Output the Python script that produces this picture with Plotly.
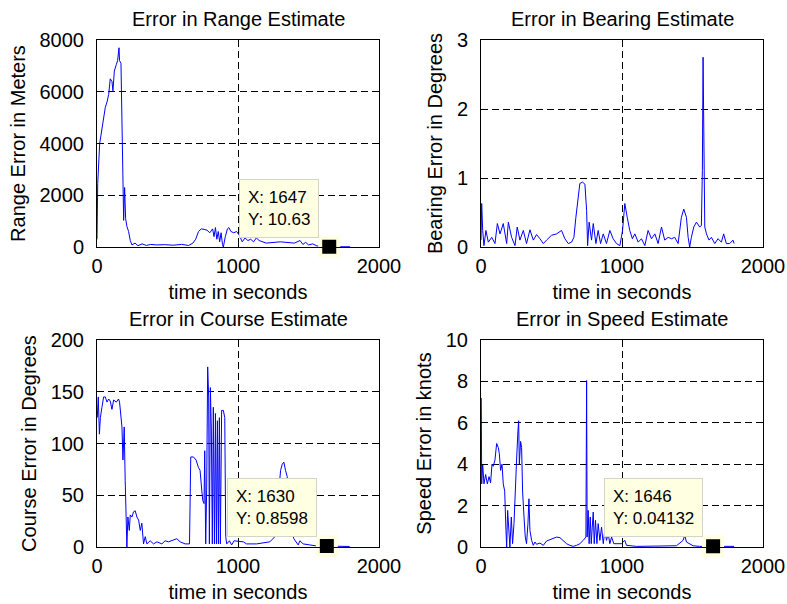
import plotly.graph_objects as go

# ---- data ----
range_t = [0, 5, 19, 35, 47, 59, 71, 83, 94, 106, 113, 123, 137, 146, 156, 160, 170, 177, 182, 189,
           196, 203, 212, 224, 236, 248, 270, 290, 320, 350, 380, 420, 480, 540, 600, 650, 680, 700,
           720, 740, 760, 780, 800, 820, 830, 840, 850, 860, 870, 880, 890, 896, 910, 925, 935, 950,
           970, 990, 1010, 1030, 1050, 1070, 1090, 1110, 1130, 1150, 1200, 1300, 1400, 1440, 1460,
           1480, 1500, 1530, 1560, 1600, 1647, 1700, 1795]
range_err = [300, 2450, 4000, 4600, 5150, 5400, 5600, 5900, 6500, 6400, 6040, 6800, 7050, 7200, 7700,
             7200, 7100, 4500, 2300, 1030, 2300, 1100, 800, 600, 250, 80, 150, 50, 120, 60, 100, 80, 90,
             70, 100, 60, 150, 300, 600, 700, 680, 650, 550, 700, 400, 750, 300, 600, 200, 550, 100, 0,
             400, 700, 750, 600, 550, 600, 450, 200, 350, 250, 300, 200, 350, 250, 150, 200, 150, 250,
             100, 180, 80, 120, 40, 20, 10.63, 10, 10]

bearing_t = [0, 5, 12, 21, 35, 52, 76, 99, 116, 135, 158, 182, 194, 217, 241, 257, 276, 300, 323, 347,
             371, 394, 418, 442, 465, 500, 536, 571, 595, 619, 642, 659, 673, 689, 701, 720, 737, 749,
             756, 767, 784, 796, 815, 831, 848, 867, 890, 914, 937, 961, 985, 1004, 1020, 1037, 1055,
             1074, 1091, 1115, 1138, 1162, 1185, 1209, 1233, 1256, 1280, 1303, 1327, 1351, 1374, 1398,
             1421, 1438, 1457, 1469, 1480, 1492, 1509, 1528, 1551, 1563, 1570, 1575, 1580, 1587, 1599,
             1617, 1634, 1658, 1681, 1705, 1721, 1740, 1764, 1787, 1795]
bearing_err = [0.1, 0.63, 0.24, 0.02, 0.24, 0.07, 0.14, 0.05, 0.34, 0.19, 0.34, 0.05, 0.36, 0.14, 0.02,
               0.29, 0.10, 0.24, 0.05, 0.25, 0.10, 0.18, 0.12, 0.05, 0.10, 0.17, 0.19, 0.24, 0.12, 0.05,
               0.07, 0.14, 0.43, 0.77, 0.92, 0.94, 0.91, 0.53, 0.02, 0.36, 0.10, 0.34, 0.05, 0.24, 0.05,
               0.19, 0.05, 0.24, 0.12, 0.05, 0.02, 0.24, 0.63, 0.43, 0.24, 0.12, 0.19, 0.07, 0.12, 0.02,
               0.24, 0.12, 0.19, 0.05, 0.29, 0.10, 0.14, 0.12, 0.14, 0.05, 0.43, 0.55, 0.43, 0.14, 0.0,
               0.14, 0.29, 0.36, 0.29, 0.31, 1.11, 2.75, 1.11, 0.29, 0.19, 0.10, 0.14, 0.05, 0.12, 0.07,
               0.19, 0.05, 0.05, 0.10, 0.05]

course_t = [2, 9, 17, 24, 35, 47, 59, 71, 83, 94, 106, 118, 137, 153, 160, 177, 184, 193, 200, 205, 212,
            219, 229, 236, 248, 259, 271, 283, 295, 307, 318, 330, 342, 354, 377, 401, 425, 460, 483,
            507, 542, 566, 590, 625, 656, 665, 684, 703, 719, 731, 743, 750, 759, 764, 771, 778, 785,
            792, 797, 804, 811, 818, 825, 833, 840, 847, 854, 861, 868, 875, 884, 896, 906, 913, 920,
            939, 955, 972, 1038, 1061, 1132, 1226, 1262, 1278, 1290, 1302, 1314, 1325, 1337, 1349, 1358,
            1368, 1380, 1396, 1415, 1427, 1439, 1462, 1509, 1557, 1630, 1700, 1792]
course_err = [125, 145, 109, 125, 135, 145, 145, 140, 143, 141, 133, 142, 140, 143, 140, 116, 84, 116,
              64, 26, 0, 29, 16, 31, 29, 34, 35, 29, 26, 16, 23, 3, 10, 3, 6, 3, 5, 3, 6, 5, 7, 8, 5, 3,
              3, 87, 87, 84, 77, 74, 55, 45, 42, 93, 3, 58, 174, 145, 3, 154, 113, 3, 135, 3, 129, 3, 122,
              3, 125, 3, 132, 132, 125, 10, 3, 6, 2, 6, 5, 3, 3, 5, 10, 29, 55, 74, 80, 82, 74, 68, 48, 29,
              16, 8, 5, 2, 6, 3, 2, 1, 0.8598, 0.5, 0.5]

speed_t = [2, 5, 12, 21, 33, 45, 57, 68, 78, 87, 99, 111, 123, 130, 139, 149, 158, 168, 177, 182, 189,
           198, 205, 215, 224, 234, 243, 253, 262, 267, 272, 281, 288, 295, 305, 314, 323, 333, 340, 347,
           359, 371, 383, 394, 418, 442, 465, 489, 512, 536, 560, 583, 607, 630, 654, 678, 701, 725, 744,
           749, 753, 760, 767, 775, 782, 789, 796, 803, 812, 822, 831, 843, 855, 867, 878, 890, 902, 914,
           926, 942, 996, 1020, 1032, 1103, 1244, 1386, 1433, 1445, 1457, 1504, 1551, 1646, 1700, 1795]
speed_err = [7.2, 3.05, 4.0, 3.05, 3.5, 3.05, 3.4, 3.1, 4.0, 3.9, 4.2, 5.0, 4.8, 4.5, 3.7, 4.0, 3.05,
             2.7, 0.8, 0, 1.77, 0.48, 0, 1.45, 0.16, 1.13, 3.05, 4.3, 5.6, 6.1, 4.0, 5.1, 4.8, 2.7, 1.45,
             0.48, 0.16, 1.13, 2.33, 0.8, 0.32, 0.08, 0.24, 0.13, 0.19, 0.08, 0.29, 0.35, 0.4, 0.48, 0.45,
             0.32, 0.16, 0.08, 0.03, 0.08, 0.16, 0.32, 0.48, 8.04, 0.48, 1.77, 0.16, 1.45, 0.16, 0.96,
             1.69, 0.16, 1.29, 0.16, 1.13, 0.32, 0.96, 0.16, 0.8, 0.32, 0.64, 0.16, 0.48, 0.16, 0.16, 0.32,
             0.08, 0.03, 0.03, 0.06, 0.32, 0.56, 0.24, 0.06, 0.03, 0.04132, 0.03, 0.03]

titles = ['Error in Range Estimate', 'Error in Bearing Estimate',
          'Error in Course Estimate', 'Error in Speed Estimate']
ylabels = ['Range Error in Meters', 'Bearing Error in Degrees',
           'Course Error in Degrees', 'Speed Error in knots']
yranges = [[0, 8000], [0, 3], [0, 200], [0, 10]]
ysteps = [2000, 1, 50, 2]
xlabel = 'time in seconds'

# data tips (None for the bearing panel)
tip_x = [1647, None, 1630, 1646]
tip_y = [10.63, None, 0.8598, 0.04132]
tip_text = ['X: 1647<br>Y: 10.63', None, 'X: 1630<br>Y: 0.8598', 'X: 1646<br>Y: 0.04132']

series = [(range_t, range_err), (bearing_t, bearing_err), (course_t, course_err), (speed_t, speed_err)]

W, H = 787, 604
xdoms = [[97 / W, 379 / W], [481 / W, 763 / W]]
ydoms = [[1 - 247 / H, 1 - 40 / H], [1 - 547 / H, 1 - 340 / H]]

FONT = 'Liberation Sans, Arial, sans-serif'
FS = 20
TIPBG = '#ffffe1'

fig = go.Figure()
annotations = []

for i in range(4):
    xa = 'x' if i == 0 else f'x{i + 1}'
    ya = 'y' if i == 0 else f'y{i + 1}'
    t, v = series[i]
    fig.add_trace(go.Scatter(x=t, y=v, mode='lines', xaxis=xa, yaxis=ya,
                             line=dict(color='#0000ff', width=1), showlegend=False,
                             hoverinfo='skip'))
    if tip_x[i] is not None:
        fig.add_trace(go.Scatter(x=[tip_x[i]], y=[tip_y[i]], mode='markers', xaxis=xa, yaxis=ya,
                                 marker=dict(symbol='square', size=18, color='black',
                                             line=dict(color=TIPBG, width=4)),
                                 cliponaxis=False, showlegend=False, hoverinfo='skip'))
        annotations.append(dict(x=tip_x[i], y=tip_y[i], xref=xa, yref=ya, text=tip_text[i],
                                showarrow=False, xanchor='right', yanchor='bottom',
                                xshift=-10, yshift=9, align='left',
                                font=dict(family=FONT, size=17, color='black'),
                                bgcolor=TIPBG, bordercolor='#d4d4c8', borderwidth=1,
                                borderpad=8))
    annotations.append(dict(x=0.5, y=1, xref=f'{xa} domain', yref=f'{ya} domain',
                            text=titles[i], showarrow=False, xanchor='center', yanchor='bottom',
                            yshift=8, font=dict(family=FONT, size=FS, color='black')))

    axis_common = dict(showline=True, linecolor='black', linewidth=1, mirror='ticks',
                       ticks='inside', ticklen=5, tickcolor='black', automargin=False,
                       showgrid=True, gridcolor='black', gridwidth=1, griddash='7px,4px',
                       zeroline=False, tickfont=dict(family=FONT, size=FS, color='black'))
    col, row = i % 2, i // 2
    fig.layout[('xaxis' if i == 0 else f'xaxis{i + 1}')] = dict(
        axis_common, domain=xdoms[col], anchor=ya, range=[0, 2000], tickvals=[0, 1000, 2000],
        ticklabelstandoff=1,
        title=dict(text=xlabel, standoff=8, font=dict(family=FONT, size=FS, color='black')))
    fig.layout[('yaxis' if i == 0 else f'yaxis{i + 1}')] = dict(
        axis_common, domain=ydoms[row], anchor=xa, range=yranges[i], dtick=ysteps[i],
        ticklabelstandoff=8,
        title=dict(text=ylabels[i], standoff=8, font=dict(family=FONT, size=FS, color='black')))

fig.update_layout(width=W, height=H, margin=dict(l=0, r=0, t=0, b=0),
                  paper_bgcolor='white', plot_bgcolor='white',
                  font=dict(family=FONT, color='black'), annotations=annotations)

# the page's default body margin would push the figure 8px off the window
fig.write_html('out.html', config={'displayModeBar': False},
               post_script="document.body.style.margin='0';")
